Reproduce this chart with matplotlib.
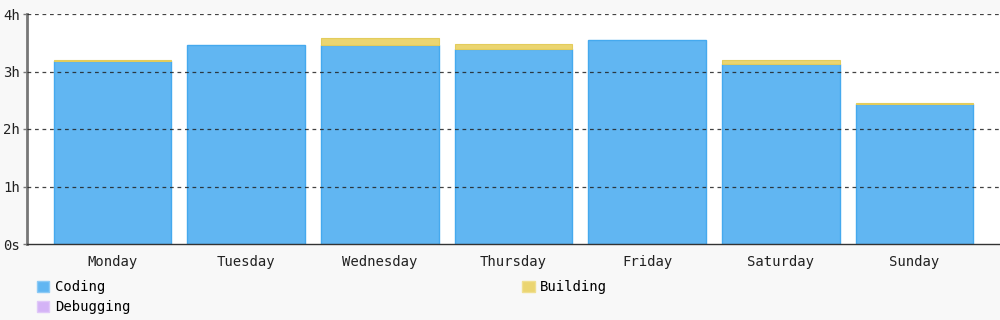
import numpy as np
import matplotlib.pyplot as plt
from matplotlib.patches import Patch
from matplotlib.ticker import FixedLocator

# Donnees (heures par jour)
days = ["Monday", "Tuesday", "Wednesday", "Thursday", "Friday", "Saturday", "Sunday"]
coding = [3.18, 3.46, 3.46, 3.39, 3.55, 3.13, 2.43]
building = [0.02, 0.0, 0.12, 0.09, 0.0, 0.07, 0.03]
debugging = [0.0, 0.0, 0.0, 0.0, 0.0, 0.0, 0.0]
tick_vals = [0, 1, 2, 3, 4]
tick_labels = ["0s", "1h", "2h", "3h", "4h"]

c_coding = "#61b6f2"
c_building = "#ebd570"
c_debug = "#d4b3f6"

plt.rcParams['font.family'] = ['DejaVu Sans Mono']

fig = plt.figure(figsize=(10, 3.2), dpi=100, facecolor="#f8f8f8")
ax = fig.add_axes([0.027, 0.2375, 0.973, 0.71875])
ax.set_facecolor("white")

x = np.arange(len(days))
coding = np.array(coding)
building = np.array(building)
debugging = np.array(debugging)

ax.bar(x, coding, width=0.88, color=c_coding, edgecolor="#45a9ee", linewidth=1, zorder=2)
# pas de bord pour les segments nuls
lw_build = [0.8 if b > 0 else 0 for b in building]
ax.bar(x, building, bottom=coding, width=0.88, color=c_building, edgecolor="#e3cc5c",
       linewidth=lw_build, zorder=2)
ax.bar(x, debugging, bottom=coding + building, width=0.88, color=c_debug, linewidth=0, zorder=2)

ax.set_xlim(-0.64, 6.64)
ax.set_ylim(0, 4)
ax.yaxis.set_major_locator(FixedLocator(tick_vals))
ax.set_yticklabels(tick_labels, fontsize=10, color="#222222")
ax.set_xticks(x)
ax.set_xticklabels(days, fontsize=10, color="#222222")
ax.tick_params(axis='x', length=0, pad=8)
ax.tick_params(axis='y', length=3, width=1, color="#777777", pad=2)

for y in tick_vals[1:]:
    ax.axhline(y, color="#222222", linestyle=(0, (3, 3)), linewidth=0.9, alpha=0.85, zorder=3)

for s in ["top", "right"]:
    ax.spines[s].set_visible(False)
ax.spines["left"].set_color("#777777")
ax.spines["left"].set_linewidth(2)
ax.spines["bottom"].set_color("#333333")
ax.spines["bottom"].set_linewidth(1)

handles = [
    Patch(facecolor=c_coding, edgecolor="#8ccaf5", label="Coding"),
    Patch(facecolor=c_debug, edgecolor="#e0c8f8", label="Debugging"),
    Patch(facecolor=c_building, edgecolor="#f0df90", label="Building"),
]
fig.legend(handles=handles, ncol=2, loc="upper left", bbox_to_anchor=(0.03, 0.146),
           frameon=False, fontsize=10, handlelength=0.9, handleheight=0.9,
           handletextpad=0.4, columnspacing=28.2, labelspacing=0.45, borderpad=0)

fig.savefig("out.png", dpi=100, facecolor=fig.get_facecolor())
